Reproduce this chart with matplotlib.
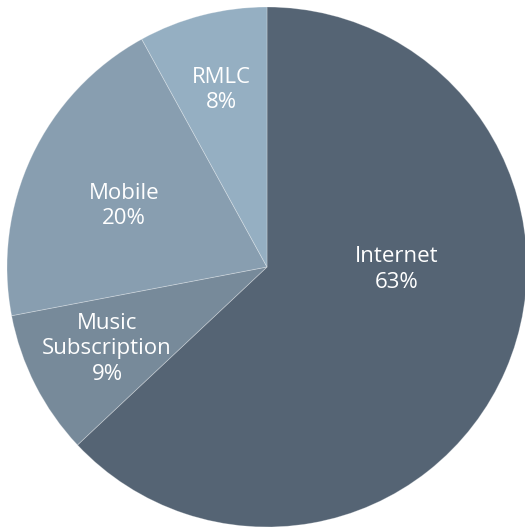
import matplotlib.pyplot as plt

categories = ["Internet", "Music\nSubscription", "Mobile", "RMLC"]
shares = [63, 9, 20, 8]
colors = ["#556474", "#778a9a", "#889eb0", "#95afc2"]

# where the labels sit, in pie units (radius 1)
label_pos = [(0.50, -0.01), (-0.615, -0.315), (-0.55, 0.235), (-0.177, 0.68)]

fig = plt.figure(figsize=(5.25, 5.27), dpi=100)
ax = fig.add_axes([7 / 525, 0, 520 / 525, 520 / 527])

wedges, _ = ax.pie(shares, colors=colors, startangle=90, counterclock=False,
                   radius=1, wedgeprops=dict(linewidth=0.6, edgecolor=(1, 1, 1, 0.3)))

for name, val, (x, y) in zip(categories, shares, label_pos):
    ax.text(x, y, f"{name}\n{val}%", ha="center", va="center", color="white",
            fontsize=16, family="Open Sans", linespacing=1.28)

ax.set_xlim(-1, 1)
ax.set_ylim(-1, 1)
ax.set_aspect("equal")
ax.axis("off")

plt.savefig("out.png", dpi=100)
